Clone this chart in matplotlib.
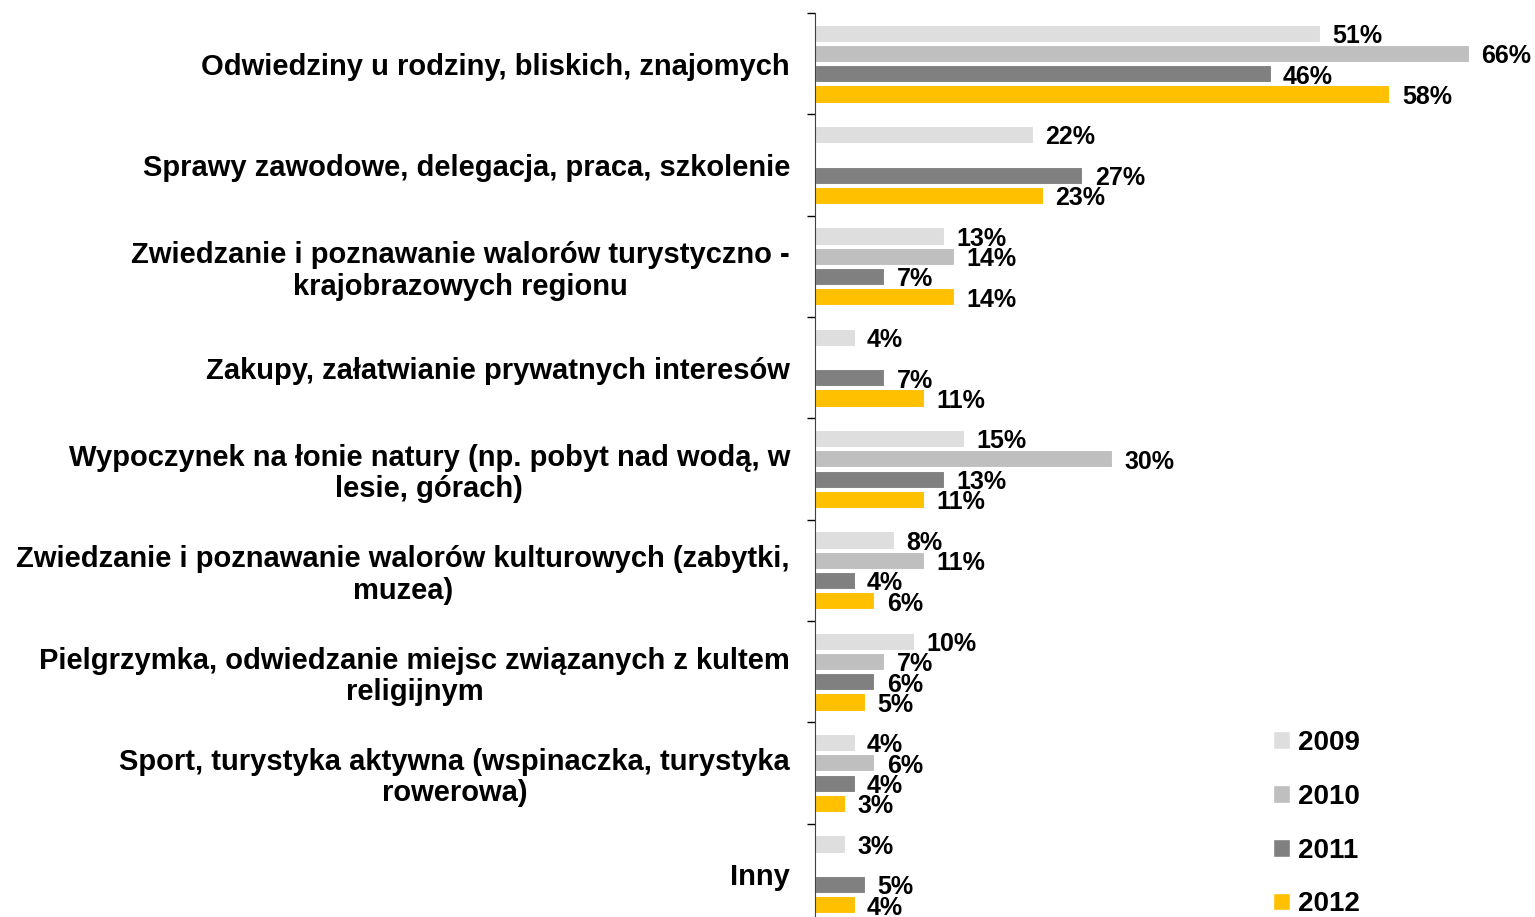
import numpy as np
import matplotlib.pyplot as plt
from matplotlib.patches import Patch

# Dane
categories = [
    'Odwiedziny u rodziny, bliskich, znajomych',
    'Sprawy zawodowe, delegacja, praca, szkolenie',
    'Zwiedzanie i poznawanie walorów turystyczno -\nkrajobrazowych regionu',
    'Zakupy, załatwianie prywatnych interesów',
    'Wypoczynek na łonie natury (np. pobyt nad wodą, w\nlesie, górach)',
    'Zwiedzanie i poznawanie walorów kulturowych (zabytki,\nmuzea)',
    'Pielgrzymka, odwiedzanie miejsc związanych z kultem\nreligijnym',
    'Sport, turystyka aktywna (wspinaczka, turystyka\nrowerowa)',
    'Inny',
]
years = ['2009', '2010', '2011', '2012']
v2009 = [51, 22, 13, 4, 15, 8, 10, 4, 3]
v2010 = [66, None, 14, None, 30, 11, 7, 6, None]
v2011 = [46, 27, 7, 7, 13, 4, 6, 4, 5]
v2012 = [58, 23, 14, 11, 11, 6, 5, 3, 4]
series = [v2009, v2010, v2011, v2012]
colors = ['#DEDEDE', '#BFBFBF', '#808080', '#FFC000']

fig = plt.figure(figsize=(15.35, 9.17), dpi=100)
ax = fig.add_axes([815 / 1535, -8 / 917, 713 / 1535, 912 / 917])

n = len(categories)
y = np.arange(n)
step = 0.2
bar_h = 0.17

for j, (vals, col) in enumerate(zip(series, colors)):
    offs = (j - 1.5) * step
    for i, v in enumerate(vals):
        if v is None:
            continue
        ax.barh(y[i] + offs, v, height=bar_h, color=col, edgecolor='white', linewidth=0.8)
        ax.annotate(f'{v}%', (v, y[i] + offs), xytext=(9, -2), textcoords='offset points',
                    ha='left', va='center', fontsize=18, fontweight='bold',
                    family='Liberation Sans')

ax.set_xlim(0, 72)
ax.set_ylim(n - 0.5, -0.5)

# Etykiety kategorii
ax.set_yticks(y)
ax.set_yticklabels(categories, fontsize=21, fontweight='bold', family='Liberation Sans',
                   multialignment='center', linespacing=1.15)
ax.tick_params(axis='y', which='major', length=0, pad=18)
ax.set_yticks(np.arange(n + 1) - 0.5, minor=True)
ax.tick_params(axis='y', which='minor', length=6, direction='out', width=1)

ax.set_xticks([])
for s in ['top', 'right', 'bottom']:
    ax.spines[s].set_visible(False)
ax.spines['left'].set_color('#404040')

# Legenda
handles = [Patch(facecolor=c, edgecolor='white', label=yr) for c, yr in zip(colors, years)]
fig.legend(handles=handles, loc='upper left', bbox_to_anchor=(1248 / 1535, 1 - 705 / 917),
           frameon=False, prop={'family': 'Liberation Sans', 'weight': 'bold', 'size': 20},
           handlelength=0.6, handleheight=0.6, handletextpad=0.3, labelspacing=1.0)

plt.savefig('out.png', dpi=100)
